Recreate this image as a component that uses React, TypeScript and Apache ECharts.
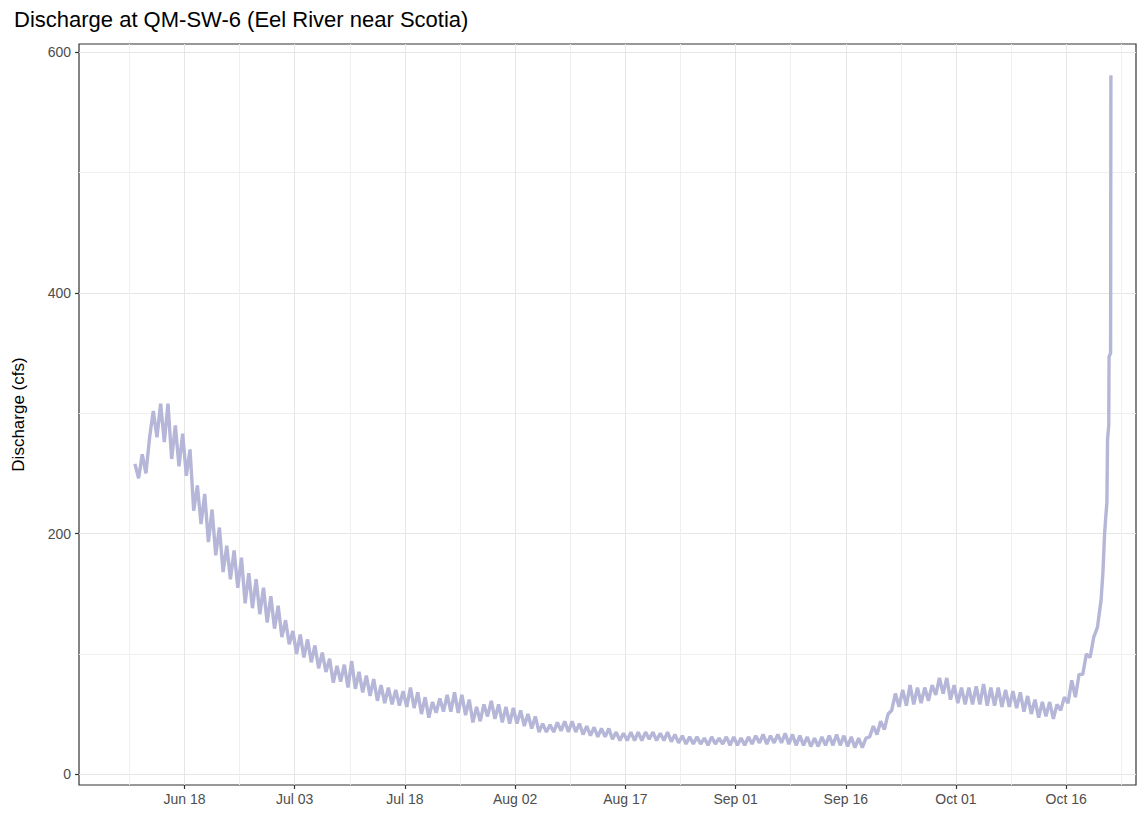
import React, { useEffect, useRef } from "react";
import * as echarts from "echarts";

// ---------- data ----------
const TITLE = "Discharge at QM-SW-6 (Eel River near Scotia)";
const Y_NAME = "Discharge (cfs)";

// first day of the record (UTC); one morning (06:00) and one evening (18:00) reading per day
const FIRST_DAY = [2019, 5, 11]; // 2019-06-11
const AM_VALUES = [
  258, 266, 280, 280, 276, 262, 256, 248, 219, 208,
  193, 182, 168, 162, 155, 142, 138, 133, 126, 121,
  114, 108, 100, 97, 93, 88, 85, 76, 77, 72,
  71, 68, 65, 61, 59, 58, 57, 56, 55, 50,
  47, 51, 52, 52, 51, 49, 43, 44, 48, 46,
  43, 42, 42, 40, 38, 35, 35, 35, 36, 35,
  35, 33, 32, 31, 31, 29, 28, 28, 28, 28,
  29, 28, 28, 27, 26, 25, 25, 25, 24, 25,
  25, 24, 24, 24, 25, 26, 25, 26, 26, 25,
  24, 24, 23, 23, 24, 24, 24, 23, 22, 22,
  31, 33, 37, 53, 56, 57, 58, 59, 61, 66,
  67, 62, 59, 58, 58, 58, 57, 57, 56, 56,
  55, 52, 50, 47, 48, 46, 53, 59, 64, 83,
  97, 122,
];
const PM_VALUES = [
  246, 250, 302, 308, 308, 290, 283, 270, 240, 233,
  220, 205, 190, 186, 180, 167, 162, 155, 148, 140,
  128, 119, 116, 112, 107, 101, 96, 90, 91, 94,
  85, 82, 79, 74, 72, 70, 69, 72, 68, 64,
  60, 63, 66, 68, 66, 62, 56, 58, 61, 58,
  56, 55, 53, 50, 48, 42, 41, 43, 44, 44,
  42, 40, 39, 38, 38, 35, 34, 35, 35, 35,
  35, 34, 35, 33, 32, 31, 31, 30, 31, 30,
  31, 31, 30, 31, 32, 33, 32, 33, 34, 33,
  32, 31, 30, 31, 32, 33, 32, 31, 30, 30,
  40, 44, 50, 67, 70, 74, 72, 72, 74, 80,
  80, 74, 72, 72, 73, 75, 72, 72, 70, 69,
  68, 65, 62, 60, 60, 58, 64, 78, 83, 100,
  114, 145,
];
// final storm rise, with explicit times (UTC)
const TAIL_TIMES = [
  "2019-10-21T00:00:00Z", "2019-10-21T05:00:00Z", "2019-10-21T09:00:00Z",
  "2019-10-21T13:00:00Z", "2019-10-21T15:00:00Z", "2019-10-21T19:00:00Z",
  "2019-10-21T20:00:00Z", "2019-10-22T01:00:00Z", "2019-10-22T02:00:00Z",
];
const TAIL_VALUES = [168, 198, 213, 226, 278, 290, 347, 350, 581];

// tick labels: every 15 days starting Jun 18
const X_TICK_LABELS = ["Jun 18", "Jul 03", "Jul 18", "Aug 02", "Aug 17", "Sep 01", "Sep 16", "Oct 01", "Oct 16"];
const Y_TICKS = [0, 200, 400, 600];

// ---------- helpers ----------
const DAY_MS = 86400000;
const ORIGIN = Date.UTC(2019, 5, 18); // Jun 18 -> axis unit 0
const UNIT_MS = 15 * DAY_MS; // one axis unit = 15 days
const toUnit = (ms: number) => (ms - ORIGIN) / UNIT_MS;

function buildSeries(): [number, number][] {
  const out: [number, number][] = [];
  const start = Date.UTC(FIRST_DAY[0], FIRST_DAY[1], FIRST_DAY[2]);
  for (let i = 0; i < AM_VALUES.length; i++) {
    const day = start + i * DAY_MS;
    out.push([toUnit(day + 6 * 3600000), AM_VALUES[i]]);
    out.push([toUnit(day + 18 * 3600000), PM_VALUES[i]]);
  }
  TAIL_TIMES.forEach((t, i) => out.push([toUnit(Date.parse(t)), TAIL_VALUES[i]]));
  return out;
}

const FONT = "'Liberation Sans', Arial, Helvetica, sans-serif";

export default function App() {
  const ref = useRef<HTMLDivElement>(null);

  useEffect(() => {
    if (!ref.current) return;
    const chart = echarts.init(ref.current, undefined, { renderer: "svg" });
    const xTickUnits = X_TICK_LABELS.map((_, i) => i);
    chart.setOption({
      animation: false,
      backgroundColor: "#ffffff",
      textStyle: { fontFamily: FONT },
      title: {
        text: TITLE,
        left: 9,
        top: 3,
        textStyle: { fontFamily: FONT, fontSize: 22, fontWeight: "normal", color: "#000000" },
      },
      grid: {
        left: 79,
        right: 2,
        top: 44,
        bottom: 31,
        show: true,
        borderColor: "#333333",
        borderWidth: 1.2,
        backgroundColor: "transparent",
        containLabel: false,
      },
      xAxis: {
        type: "value",
        min: -14.36 / 15,
        max: 129.5 / 15,
        minInterval: 1,
        maxInterval: 1,
        splitNumber: 9,
        axisLine: { show: false, onZero: false },
        axisTick: {
          show: true,
          length: 4,
          customValues: xTickUnits,
          lineStyle: { color: "#333333", width: 1.2 },
        },
        axisLabel: {
          show: true,
          customValues: xTickUnits,
          margin: 7,
          fontSize: 14,
          color: "#4d4d4d",
          fontFamily: FONT,
          formatter: (v: number) => {
            const r = Math.round(v);
            return Math.abs(v - r) < 1e-6 && X_TICK_LABELS[r] ? X_TICK_LABELS[r] : "";
          },
        },
        splitLine: { show: true, lineStyle: { color: "#e6e6e6", width: 1 } },
        minorTick: { show: false, splitNumber: 2 },
        minorSplitLine: { show: true, lineStyle: { color: "#efefef", width: 1 } },
      },
      yAxis: {
        type: "value",
        min: -9,
        max: 607,
        minInterval: 200,
        maxInterval: 200,
        splitNumber: 3,
        name: Y_NAME,
        nameLocation: "middle",
        nameGap: 52,
        nameTextStyle: { fontSize: 17, color: "#000000", fontFamily: FONT },
        axisLine: { show: false, onZero: false },
        axisTick: {
          show: true,
          length: 4,
          customValues: Y_TICKS,
          lineStyle: { color: "#333333", width: 1.2 },
        },
        axisLabel: {
          show: true,
          customValues: Y_TICKS,
          margin: 8,
          fontSize: 14,
          color: "#4d4d4d",
          fontFamily: FONT,
          formatter: (v: number) => (Y_TICKS.indexOf(v) >= 0 ? String(v) : ""),
        },
        splitLine: { show: true, lineStyle: { color: "#e6e6e6", width: 1 } },
        minorTick: { show: false, splitNumber: 2 },
        minorSplitLine: { show: true, lineStyle: { color: "#efefef", width: 1 } },
      },
      series: [
        {
          type: "line",
          data: buildSeries(),
          showSymbol: false,
          symbol: "none",
          lineStyle: { color: "#b6b6d8", width: 3.4 },
          itemStyle: { color: "#b6b6d8" },
          clip: true,
        },
      ],
    });
    return () => chart.dispose();
  }, []);

  return (
    <div
      ref={ref}
      style={{ position: "fixed", left: 0, top: 0, width: 1138, height: 816, background: "#ffffff" }}
    />
  );
}
